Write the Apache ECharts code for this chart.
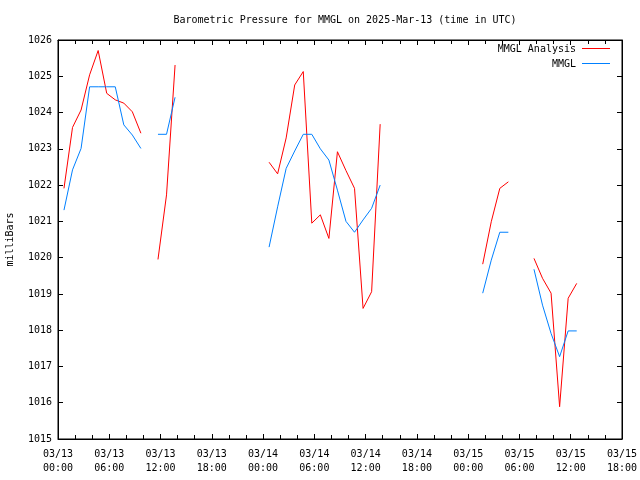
<!DOCTYPE html>
<html><head><meta charset="utf-8">
<script src="https://cdn.jsdelivr.net/npm/echarts@6/dist/echarts.min.js"></script>
<style>html,body{margin:0;padding:0;background:#fff}#c{width:640px;height:480px}</style>
</head><body><div id="c"></div>
<script>
// hours since 2025-03-13 00:00 UTC (null rows break the lines)
const hours = [0.7,1.7,2.7,3.7,4.7,5.7,6.7,7.7,8.7,9.7, 10.7,
  11.7,12.7,13.7, 14.7,
  24.7,25.7,26.7,27.7,28.7,29.7,30.7,31.7,32.7,33.7,34.7,35.7,36.7,37.7, 38.7,
  49.7,50.7,51.7,52.7, 53.7,
  55.7,56.7,57.7,58.7,59.7,60.7];
const analysis = [1021.91,1023.59,1024.07,1025.04,1025.71,1024.53,1024.35,1024.26,1024.02,1023.43, null,
  1019.95,1021.73,1025.31, null,
  1022.63,1022.31,1023.3,1024.76,1025.13,1020.95,1021.18,1020.53,1022.92,1022.4,1021.91,1018.6,1019.06,1023.68, null,
  1019.82,1020.99,1021.91,1022.09, null,
  1019.98,1019.43,1019.02,1015.89,1018.88,1019.29];
const observed = [1021.31,1022.42,1023.01,1024.71,1024.71,1024.71,1024.71,1023.66,1023.38,1023.01, null,
  1023.4,1023.4,1024.42, null,
  1020.29,1021.4,1022.46,1022.94,1023.4,1023.4,1023.0,1022.69,1021.86,1021.0,1020.7,1021.04,1021.36,1022.0, null,
  1019.02,1019.93,1020.7,1020.7, null,
  1019.68,1018.69,1017.91,1017.27,1017.98,1017.98];
const tickLabels = ['03/13\n00:00','03/13\n06:00','03/13\n12:00','03/13\n18:00',
  '03/14\n00:00','03/14\n06:00','03/14\n12:00','03/14\n18:00',
  '03/15\n00:00','03/15\n06:00','03/15\n12:00','03/15\n18:00'];
const seriesNames = ['MMGL Analysis','MMGL'];
const colors = ['#ff0000','#0080ff'];

const FONT = 'DejaVu Sans Mono';
const chart = echarts.init(document.getElementById('c'), null, {renderer:'canvas'});
const pair = arr => hours.map((h,i)=>[h, arr[i]]);
const axisBase = {
  axisLine:{show:true,onZero:false,lineStyle:{color:'#000',width:1}},
  splitLine:{show:false}
};
chart.setOption({
  animation:false,
  backgroundColor:'#fff',
  title:{text:'Barometric Pressure for MMGL on 2025-Mar-13 (time in UTC)', left:340, top:10, textAlign:'center',
    textStyle:{fontFamily:FONT,fontSize:10,fontWeight:'normal',color:'#000'}},
  grid:{left:58,right:18,top:40,bottom:41,show:true,borderColor:'#000',borderWidth:1,containLabel:false,outerBoundsMode:'none'},
  xAxis:[
    Object.assign({type:'value',min:0,max:66,interval:6,position:'bottom',
      axisTick:{show:true,inside:true,length:5,lineStyle:{color:'#000'}},
      minorTick:{show:true,splitNumber:3,length:4,lineStyle:{color:'#000'}},
      axisLabel:{margin:8,fontFamily:FONT,fontSize:10,color:'#000',lineHeight:14,
        formatter:v=>tickLabels[Math.round(v/6)]||''}},axisBase),
    Object.assign({type:'value',min:0,max:66,interval:6,position:'top',
      axisTick:{show:true,inside:true,length:5,lineStyle:{color:'#000'}},
      minorTick:{show:true,splitNumber:3,length:4,lineStyle:{color:'#000'}},
      axisLabel:{show:false}},axisBase)
  ],
  yAxis:[
    Object.assign({type:'value',min:1015,max:1026,interval:1,position:'left',
      name:'milliBars',nameLocation:'middle',nameGap:43,nameRotate:90,
      nameTextStyle:{fontFamily:FONT,fontSize:10,color:'#000'},
      axisTick:{show:true,inside:true,length:5,lineStyle:{color:'#000'}},
      axisLabel:{margin:6,fontFamily:FONT,fontSize:10,color:'#000',formatter:v=>String(v)}},axisBase),
    Object.assign({type:'value',min:1015,max:1026,interval:1,position:'right',
      axisTick:{show:true,inside:true,length:5,lineStyle:{color:'#000'}},
      axisLabel:{show:false}},axisBase)
  ],
  series:[
    {name:seriesNames[0],type:'line',data:pair(analysis),showSymbol:false,symbol:'none',connectNulls:false,
      lineStyle:{color:colors[0],width:1},itemStyle:{color:colors[0]}},
    {name:seriesNames[1],type:'line',data:pair(observed),showSymbol:false,symbol:'none',connectNulls:false,
      lineStyle:{color:colors[1],width:1},itemStyle:{color:colors[1]}}
  ],
  graphic:[
    {type:'text',right:64,top:44,style:{text:seriesNames[0],fontFamily:FONT,fontSize:10,fill:'#000',textAlign:'right'}},
    {type:'text',right:64,top:59,style:{text:seriesNames[1],fontFamily:FONT,fontSize:10,fill:'#000',textAlign:'right'}},
    {type:'line',shape:{x1:582,y1:48.5,x2:610,y2:48.5},style:{stroke:colors[0],lineWidth:1}},
    {type:'line',shape:{x1:582,y1:63.5,x2:610,y2:63.5},style:{stroke:colors[1],lineWidth:1}}
  ]
});
</script></body></html>
